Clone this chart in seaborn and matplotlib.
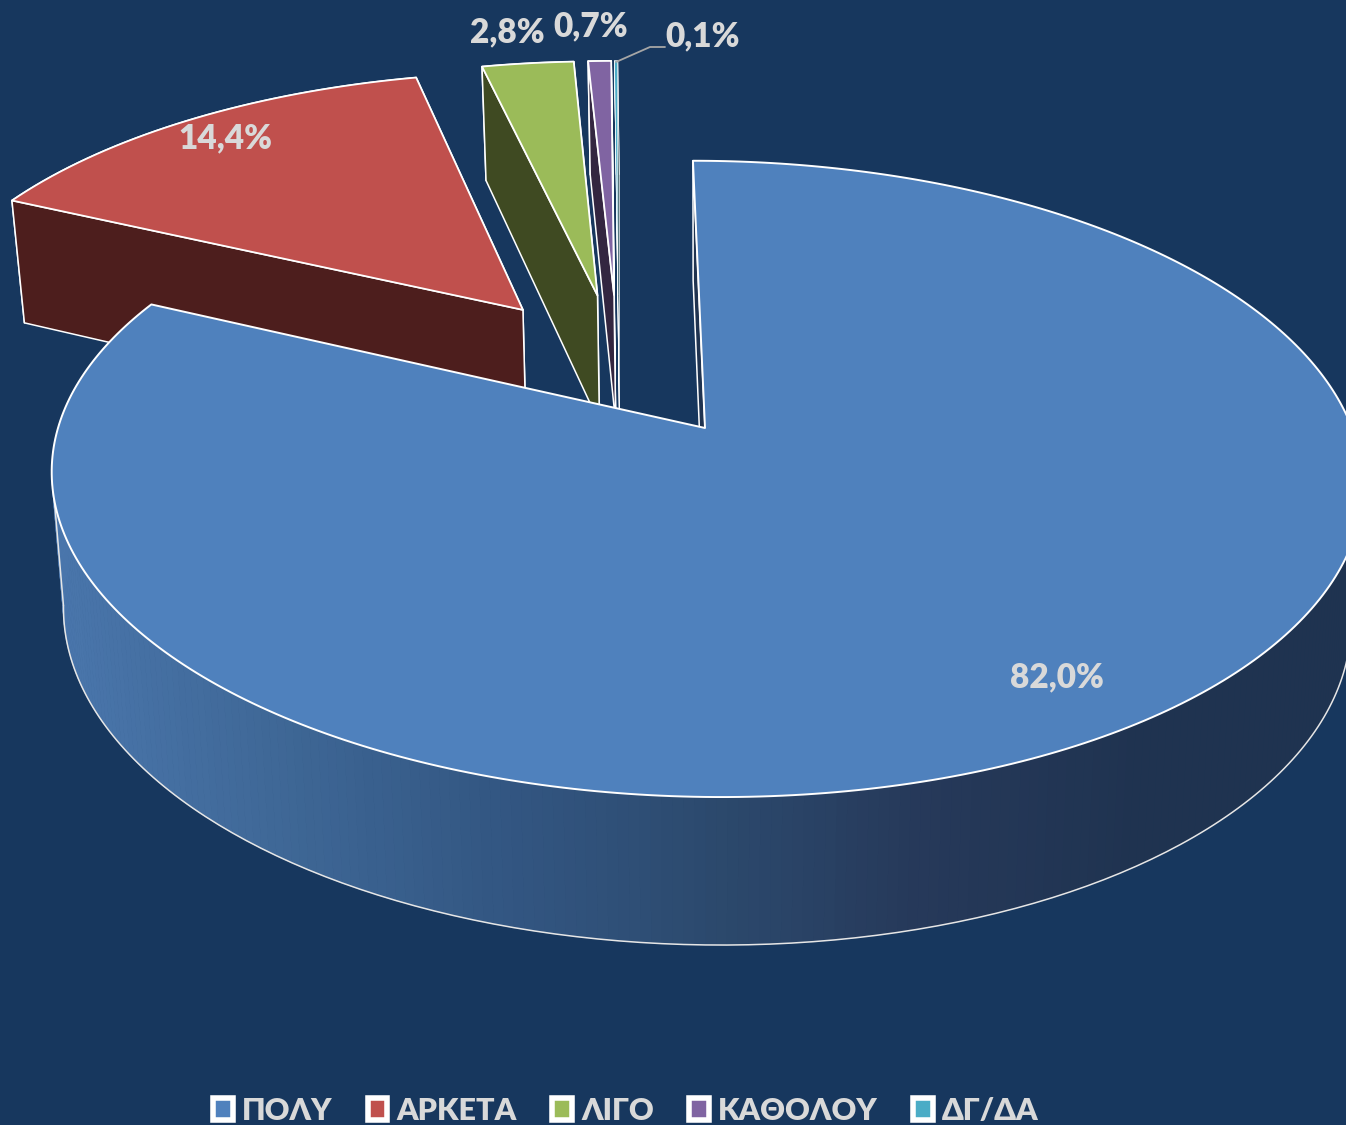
# pie_3d_poly.py
import numpy as np
import matplotlib
matplotlib.use('Agg')
import matplotlib.pyplot as plt
from matplotlib.patches import Patch, Polygon
import seaborn as sns

# data
categories = ['ΠΟΛΥ', 'ΑΡΚΕΤΑ', 'ΛΙΓΟ', 'ΚΑΘΟΛΟΥ', 'ΔΓ/ΔΑ']
values = [82.0, 14.4, 2.8, 0.7, 0.1]
value_labels = ['82,0%', '14,4%', '2,8%', '0,7%', '0,1%']

# colours
bg_color = '#17375e'
top_colors = ['#4f81bd', '#c0504d', '#9bbb59', '#8064a2', '#4bacc6']
wall_colors = ['#1f3350', '#4d1e1d', '#3f4a22', '#332640', '#1e4a55']
main_wall_stops = ['#4a76ac', '#3f6897', '#335783', '#2c4a6e', '#26395a', '#1f3350', '#1f3350']
text_color = '#d9d9d9'

# camera: apex of the big slice, disc radii, perspective
CX, CY = 705, 428
RX, RY = 647, 310
K, SKEW = 0.16, 14
EXPLODE = 0.25

sns.set_theme(style='white')
plt.rcParams['font.family'] = ['Lato', 'Noto Sans', 'DejaVu Sans']


def project(u, v, z=0.0):
    """disc coordinates -> picture pixels (z=0 top face, z=1 bottom face)"""
    w = 1 - K * v
    x = (RX * u + SKEW * v) / w
    y = CY + RY * v / w + z * (134 + 14 * v)
    x = CX + x * (1 - 0.018 * z)
    return np.column_stack([x, y])


def direction(angle):
    return np.sin(angle), -np.cos(angle)


def draw_poly(ax, pts, face, edge='white', lw=1.0, z=1):
    ax.add_patch(Polygon(pts, closed=True, facecolor=face, edgecolor=edge,
                         linewidth=lw, joinstyle='round', zorder=z))


fig = plt.figure(figsize=(13.46, 11.25), dpi=100, facecolor=bg_color)
ax = fig.add_axes([0, 0, 1, 1])
ax.set_xlim(0, 1346)
ax.set_ylim(1125, 0)
ax.axis('off')

# slice angles, clockwise from the top
fractions = np.array(values) / sum(values)
ends = np.cumsum(fractions) * 2 * np.pi
starts = np.r_[0, ends[:-1]]
mids = (starts + ends) / 2
main_dir = np.array(direction(mids[0]))

# small slices are pushed out relative to the big one
for i in range(len(values) - 1, 0, -1):
    off = EXPLODE * (np.array(direction(mids[i])) - main_dir)
    a = np.linspace(starts[i], ends[i], 40)
    u = np.sin(a) + off[0]
    v = -np.cos(a) + off[1]
    top_arc = project(u, v, 0)
    bot_arc = project(u, v, 1)
    apex_t = project(off[0], off[1], 0)
    apex_b = project(off[0], off[1], 1)
    # the thinnest slice would vanish under a full edge
    lw_top = 0.5 if fractions[i] < 0.002 else 1.3
    lw_wall = 0.5 if fractions[i] < 0.002 else 1.1
    # walls first, then the top face
    draw_poly(ax, np.vstack([top_arc, bot_arc[::-1]]), wall_colors[i], lw=lw_wall, z=2)
    draw_poly(ax, np.vstack([apex_t, top_arc[-1], bot_arc[-1], apex_b]), wall_colors[i], lw=lw_wall, z=2)
    draw_poly(ax, np.vstack([apex_t, top_arc[0], bot_arc[0], apex_b]), wall_colors[i], lw=lw_wall, z=2)
    draw_poly(ax, np.vstack([apex_t, top_arc]), top_colors[i], lw=lw_top, z=3)

# big slice: inner wall, shaded outer wall, top
a = np.linspace(starts[0], ends[0], 361)
u, v = np.sin(a), -np.cos(a)
top_arc = project(u, v, 0)
bot_arc = project(u, v, 1)
apex_t = project(0, 0, 0)
apex_b = project(0, 0, 1)

shades = sns.blend_palette(main_wall_stops, 128)
xmin, xmax = top_arc[:, 0].min(), top_arc[:, 0].max()
for j in range(len(a) - 1):
    quad = np.vstack([top_arc[j], top_arc[j + 1], bot_arc[j + 1], bot_arc[j]])
    t = (quad[:, 0].mean() - xmin) / (xmax - xmin)
    c = shades[min(int(t * 128), 127)]
    ax.add_patch(Polygon(quad, closed=True, facecolor=c, edgecolor=c, linewidth=0.6, zorder=4))
# outline of the wall, only between the two silhouette lines
j_left, j_right = top_arc[:, 0].argmin(), top_arc[:, 0].argmax()
ax.plot(bot_arc[j_right:j_left + 1, 0], bot_arc[j_right:j_left + 1, 1], color='#e6e6e6', lw=1.1, zorder=5)
for j in (j_left, j_right):
    ax.plot([top_arc[j, 0], bot_arc[j, 0]], [top_arc[j, 1], bot_arc[j, 1]],
            color='#e6e6e6', lw=1.1, zorder=5)
draw_poly(ax, np.vstack([apex_t, top_arc[0], bot_arc[0], apex_b]), wall_colors[0], lw=1.1, z=6)
draw_poly(ax, np.vstack([apex_t, top_arc]), top_colors[0], lw=1.4, z=7)

# data labels
label_pos = [(1057, 677), (225, 138), (507, 32), (591, 26), (703, 36)]
for txt, (lx, ly) in zip(value_labels, label_pos):
    ax.text(lx, ly, txt, color=text_color, fontsize=24, fontweight='heavy',
            ha='center', va='center', zorder=10)
# leader line of the last label
ax.plot([616, 650, 665], [62, 47, 47], color='#a6a6a6', lw=1.3, zorder=9)

# legend
handles = [Patch(facecolor=c, edgecolor='white', linewidth=4, joinstyle='round') for c in top_colors]
fig.legend(handles, categories, loc='lower center', bbox_to_anchor=(0.4648, 0.0), ncol=5,
           frameon=False, prop={'size': 22, 'weight': 'heavy'}, labelcolor=text_color,
           handlelength=0.65, handleheight=0.72, handletextpad=0.3, columnspacing=1.15,
           borderpad=0, borderaxespad=0)

fig.savefig('out.png', dpi=100, facecolor=bg_color)
